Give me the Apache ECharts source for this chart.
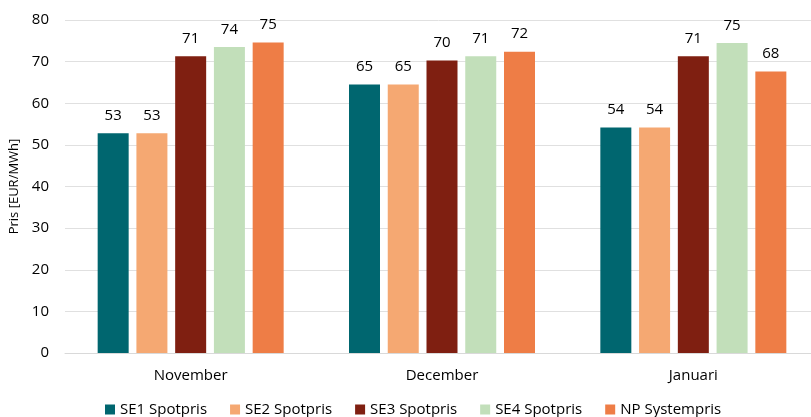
<!DOCTYPE html>
<html>
<head>
<meta charset="utf-8">
<script src="https://cdn.jsdelivr.net/npm/echarts@6/dist/echarts.min.js"></script>
<style>
  html, body { margin: 0; padding: 0; background: #fff; }
  #chart { width: 811px; height: 417px; }
</style>
</head>
<body>
<div id="chart"></div>
<script>
// data
var months = ['November', 'December', 'Januari'];
var se1 = [52.8, 64.5, 54.2];
var se2 = [52.8, 64.5, 54.2];
var se3 = [71.3, 70.3, 71.3];
var se4 = [73.5, 71.3, 74.5];
var np = [74.6, 72.4, 67.6];
var seriesNames = ['SE1 Spotpris', 'SE2 Spotpris', 'SE3 Spotpris', 'SE4 Spotpris', 'NP Systempris'];
var colors = ['#00666F', '#F5A872', '#7F1F11', '#C2DFBA', '#EE7D46'];

var font = 'Open Sans';
var chart = echarts.init(document.getElementById('chart'));

function bar(name, data, color) {
    return {
        name: name,
        type: 'bar',
        data: data,
        barWidth: 31,
        barGap: '25%',
        itemStyle: { color: color },
        label: {
            show: true,
            position: 'top',
            distance: 10,
            color: '#000',
            fontFamily: font,
            fontSize: 15,
            formatter: function (p) { return Math.round(p.value); }
        }
    };
}

var option = {
    animation: false,
    // plot area runs past the right edge, like the cropped original
    grid: { left: 65, width: 754, top: 20, bottom: 64, outerBoundsMode: 'none' },
    legend: {
        bottom: -5,
        left: 100,
        itemWidth: 10,
        itemHeight: 10,
        itemGap: 23,
        icon: 'rect',
        textStyle: { fontFamily: font, fontSize: 15, color: '#000' },
        data: seriesNames
    },
    xAxis: {
        type: 'category',
        data: months,
        axisLine: { lineStyle: { color: '#D9D9D9', width: 1 } },
        axisTick: { show: false },
        axisLabel: { fontFamily: font, fontSize: 15, color: '#000', margin: 15 }
    },
    yAxis: {
        type: 'value',
        min: 0,
        max: 80,
        interval: 10,
        name: 'Pris [EUR/MWh]',
        nameLocation: 'middle',
        nameGap: 34,
        nameTextStyle: { fontFamily: font, fontSize: 13, color: '#000' },
        axisLabel: { fontFamily: font, fontSize: 15, color: '#000', margin: 16 },
        splitLine: { lineStyle: { color: '#E0E0E0' } }
    },
    series: [
        bar(seriesNames[0], se1, colors[0]),
        bar(seriesNames[1], se2, colors[1]),
        bar(seriesNames[2], se3, colors[2]),
        bar(seriesNames[3], se4, colors[3]),
        bar(seriesNames[4], np, colors[4])
    ]
};
chart.setOption(option);
</script>
</body>
</html>
